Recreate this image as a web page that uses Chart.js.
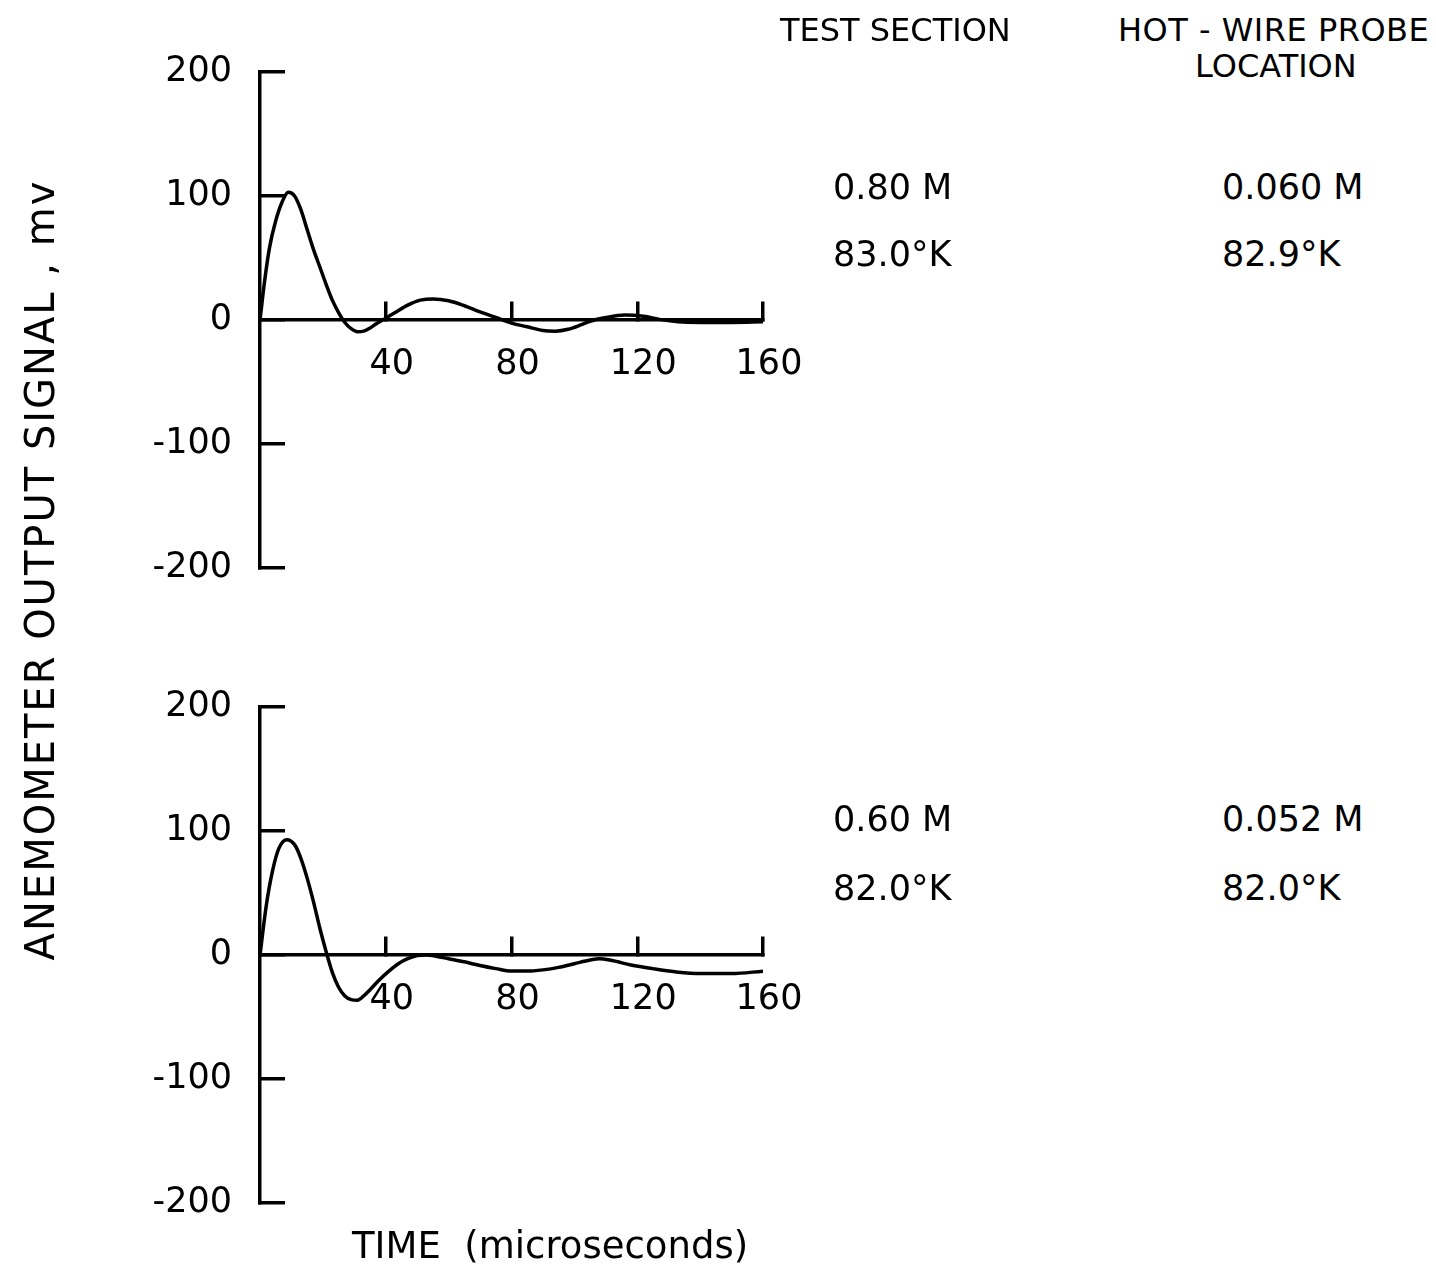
<!DOCTYPE html>
<html>
<head>
<meta charset="utf-8">
<script src="https://cdn.jsdelivr.net/npm/chart.js@4.4.0/dist/chart.umd.min.js"></script>
<style>
  body { margin: 0; background: #fff; width: 1436px; height: 1271px; position: relative; overflow: hidden;
         font-family: "DejaVu Sans", sans-serif; color: #000; }
  .txt { position: absolute; line-height: 1; white-space: pre; }
  canvas { position: absolute; left: 0; }
</style>
</head>
<body>

<canvas id="topChart" width="863" height="696" style="top:-28px"></canvas>
<canvas id="bottomChart" width="863" height="696" style="top:607px"></canvas>

<div class="txt" style="left:-360px; top:550px; width:800px; text-align:center; font-size:40px; letter-spacing:2px; transform:rotate(-90deg);">ANEMOMETER OUTPUT SIGNAL , mv</div>
<div class="txt" style="left:352px; top:1227px; font-size:37px;">TIME  (microseconds)</div>

<div class="txt" style="left:780px; top:14px; font-size:32px;">TEST SECTION</div>
<div class="txt" style="left:1118px; top:14px; font-size:32px; letter-spacing:0.5px;">HOT - WIRE PROBE</div>
<div class="txt" style="left:1195px; top:50px; font-size:32px;">LOCATION</div>

<div class="txt" style="left:833px; top:170px; font-size:35px;">0.80 M</div>
<div class="txt" style="left:833px; top:237px; font-size:35px;">83.0°K</div>
<div class="txt" style="left:1222px; top:170px; font-size:35px;">0.060 M</div>
<div class="txt" style="left:1222px; top:237px; font-size:35px;">82.9°K</div>

<div class="txt" style="left:833px; top:802px; font-size:35px;">0.60 M</div>
<div class="txt" style="left:833px; top:871px; font-size:35px;">82.0°K</div>
<div class="txt" style="left:1222px; top:802px; font-size:35px;">0.052 M</div>
<div class="txt" style="left:1222px; top:871px; font-size:35px;">82.0°K</div>

<script>
// Axis ticks
const timeTicks = [40, 80, 120, 160];
const signalTicks = [-200, -100, 0, 100, 200];

// Upper trace (0.80 M test section)
const timeTop = [0, 1.5, 3, 5, 7, 9, 11, 13, 15, 17, 19, 21, 23, 25, 27, 29, 31, 33, 35, 37, 40,
                 43, 47, 51, 55, 60, 65, 70, 75, 80, 85, 90, 94, 98, 102, 105, 110, 116, 122, 127, 133,
                 140, 150, 160];
const signalTop = [0, 32, 58, 80, 95, 103, 100, 89, 73, 57, 43, 29, 16, 6, -2, -7, -9.5, -9, -6.5, -3, 1.5,
                   6, 12, 16, 17, 15.5, 11.5, 6.5, 2, -2.5, -5.5, -8.5, -9, -7.5, -4, -1, 2, 4, 3, 0.5, -1.5,
                   -2, -2, -1.5];

// Lower trace (0.60 M test section)
const timeBottom = [0, 2, 4, 6, 8.5, 11, 13, 15, 17, 19, 21, 23, 25, 27, 29, 31, 33, 35, 38, 41, 44, 47,
                    50, 53, 56, 60, 65, 70, 75, 80, 85, 90, 95, 100, 105, 108, 112, 118, 125, 132, 140,
                    150, 160];
const signalBottom = [0, 40, 68, 86, 93, 89, 78, 62, 43, 22, 3, -14, -26, -33, -36, -36.5, -33, -28, -20, -13,
                      -7, -3, -0.5, 0, -1, -3, -5.5, -8.5, -11, -13, -13, -12, -10, -7, -4, -3, -4.5, -8,
                      -11, -13.5, -15, -15, -13];


// Build one panel
function makePanel(id, times, signals) {

    const ctx = document.getElementById(id).getContext('2d');

    const points = times.map((t, i) => ({ x: t, y: signals[i] }));

    const tickFont = { family: 'DejaVu Sans', size: 35 };

    new Chart(ctx, {
        type: 'line',

        data: {
            datasets: [{
                data: points,
                borderColor: '#000',
                borderWidth: 3.5,
                pointRadius: 0,
                cubicInterpolationMode: 'monotone',
                fill: false
            }]
        },

        options: {
            responsive: false,
            animation: false,

            layout: {
                padding: { top: 100, bottom: 100, left: 0, right: 100 }
            },

            plugins: {
                legend: { display: false },
                tooltip: { enabled: false }
            },

            scales: {
                x: {
                    type: 'linear',
                    min: 0,
                    max: 160,
                    position: { y: 0 },
                    afterBuildTicks: (s) => { s.ticks = timeTicks.map(v => ({ value: v })); },
                    grid: { drawOnChartArea: false, drawTicks: true, tickLength: -20, color: '#000', lineWidth: 3.5 },
                    border: { display: true, color: '#000', width: 3.5 },
                    ticks: { color: '#000', font: tickFont, padding: 44, labelOffset: 6, maxRotation: 0, autoSkip: false }
                },

                y: {
                    type: 'linear',
                    min: -200,
                    max: 200,
                    position: 'left',
                    afterBuildTicks: (s) => { s.ticks = signalTicks.map(v => ({ value: v })); },
                    afterFit: (s) => { s.width = 260; },
                    grid: { drawOnChartArea: false, drawTicks: true, tickLength: -25, color: '#000', lineWidth: 3.5 },
                    border: { display: true, color: '#000', width: 3.5 },
                    ticks: { color: '#000', font: tickFont, padding: 53 }
                }
            }
        }
    });
}


makePanel('topChart', timeTop, signalTop);
makePanel('bottomChart', timeBottom, signalBottom);
</script>
</body>
</html>
